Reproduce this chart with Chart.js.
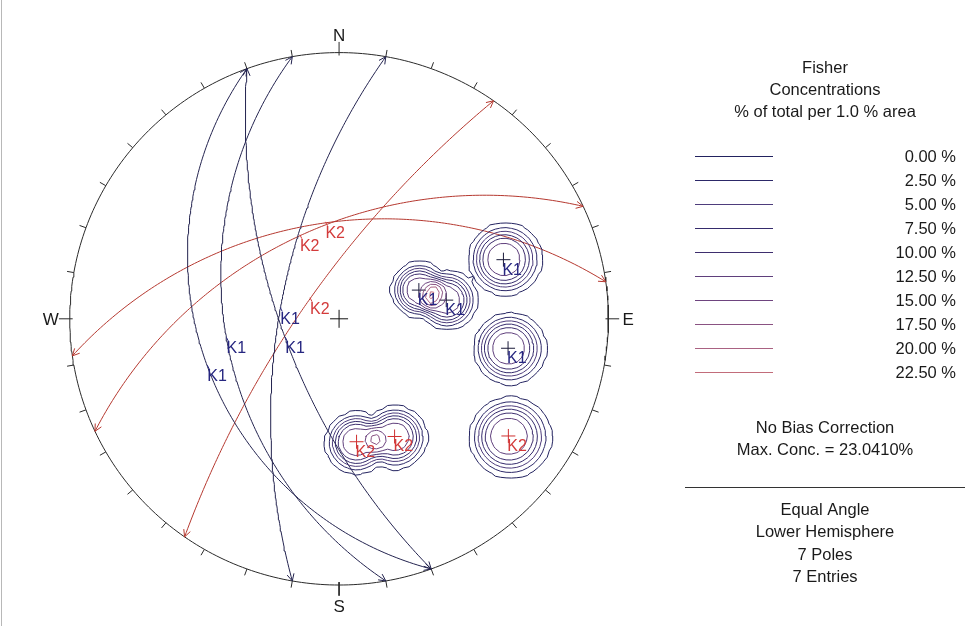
<!DOCTYPE html>
<html>
<head>
<meta charset="utf-8">
<title>Stereonet – Fisher Concentrations</title>
<script src="https://cdn.jsdelivr.net/npm/chart.js@4.4.1/dist/chart.umd.min.js"></script>
<style>
  html, body { margin: 0; padding: 0; background: #ffffff; }
  #wrap { position: relative; width: 970px; height: 626px; }
</style>
</head>
<body>
<div id="wrap"><canvas id="net" width="970" height="626"></canvas></div>
<script>
// ---- Joint measurements (one entry per plane) ----
const jointSets     = ['K1', 'K1', 'K1', 'K1', 'K2', 'K2', 'K2'];
const dipDirections = [250, 250, 260, 280, 352, 335, 305];   // degrees
const dips          = [66, 35, 44, 65, 50, 52, 75];          // degrees

// ---- Contour intervals (% of total per 1.0 % area) ----
const contourLevels = [0, 2.5, 5, 7.5, 10, 12.5, 15, 17.5, 20, 22.5];
const contourColors = ['#22225f', '#2c2868', '#4e3d7c', '#352b6c', '#3e2e6e',
                       '#5f3f7c', '#6e447f', '#8a5282', '#aa6282', '#c26c7a'];
const maxConcentration = 23.0410;
// the lowest (0.00 %) contour is traced at the edge of the counted area
const edgeThreshold = 0.35;

// ---- Text blocks ----
const cardinalLabels = ['N', 'E', 'S', 'W'];
const cardinalTrends = [0, 90, 180, 270];
const titleLines = ['Fisher', 'Concentrations', '% of total per 1.0 % area'];
const biasLines = ['No Bias Correction', 'Max. Conc. = ' + maxConcentration.toFixed(4) + '%'];
const projectionLines = ['Equal Angle', 'Lower Hemisphere',
                         dips.length + ' Poles', dips.length + ' Entries'];

// ---- Styling per joint set ----
const setStyle = {
  K1: { plane: '#23234f', pole: '#1b1b3a', text: '#262680' },
  K2: { plane: '#b5382f', pole: '#cf2f2f', text: '#d33b3b' }
};
const FONT = '"Liberation Sans", Arial, sans-serif';

// ---- Layout of the net on the canvas ----
const W = 970, H = 626;
const CX = 336, CY = 319, R = 275;   // primitive circle centre and radius (px)
const DEG = Math.PI / 180;

// Equal-angle (stereographic) lower hemisphere projection of a unit vector [east, north, down]
function project(v) { return { x: v[0] / (1 + v[2]), y: v[1] / (1 + v[2]) }; }
function unproject(x, y) {
  const r2 = x * x + y * y;
  return [2 * x / (1 + r2), 2 * y / (1 + r2), (1 - r2) / (1 + r2)];
}
function poleVector(dd, dip) {
  return [-Math.sin(dip * DEG) * Math.sin(dd * DEG),
          -Math.sin(dip * DEG) * Math.cos(dd * DEG),
           Math.cos(dip * DEG)];
}
function dipVector(dd, dip) {
  return [Math.cos(dip * DEG) * Math.sin(dd * DEG),
          Math.cos(dip * DEG) * Math.cos(dd * DEG),
          Math.sin(dip * DEG)];
}
function greatCircle(dd, dip) {
  const st = (dd - 90) * DEG;
  const S = [Math.sin(st), Math.cos(st), 0];
  const D = dipVector(dd, dip);
  const pts = [];
  for (let a = 0; a <= 180; a += 1) {
    const c = Math.cos(a * DEG), s = Math.sin(a * DEG);
    pts.push(project([c * S[0] + s * D[0], c * S[1] + s * D[1], c * S[2] + s * D[2]]));
  }
  return pts;
}

const poleVecs = dips.map((d, i) => poleVector(dipDirections[i], d));
const poles = poleVecs.map(project);
const planeArcs = dips.map((d, i) => greatCircle(dipDirections[i], d));
const planeAnchors = dips.map((d, i) => project(dipVector(dipDirections[i], d)));

// ---- Pole density on a grid, scaled to the reported maximum concentration ----
const SPREAD = 8.5 * DEG, FLOOR = 0.05;
function kernel(cosAng) {
  const t = Math.acos(Math.min(1, Math.abs(cosAng)));
  const w = Math.exp(-Math.pow(t / SPREAD, 4));
  return w > FLOOR ? (w - FLOOR) / (1 - FLOOR) : 0;
}
const GN = 110, GH = 2.2 / GN, G0 = -1.1;
const field = [];
let rawMax = 0;
for (let i = 0; i <= GN; i++) {
  field.push([]);
  for (let j = 0; j <= GN; j++) {
    const x = G0 + i * GH, y = G0 + j * GH;
    let v = 0;
    if (x * x + y * y <= 1.0) {
      const u = unproject(x, y);
      for (const p of poleVecs) v += kernel(u[0] * p[0] + u[1] * p[1] + u[2] * p[2]);
    }
    field[i].push(v);
    if (v > rawMax) rawMax = v;
  }
}
const fieldScale = maxConcentration / rawMax;
for (let i = 0; i <= GN; i++) for (let j = 0; j <= GN; j++) field[i][j] *= fieldScale;

// Marching squares: returns contour segments separated by gaps
function contourSegments(level) {
  const out = [];
  const lerp = (xa, ya, va, xb, yb, vb) => {
    const t = (level - va) / (vb - va);
    return { x: xa + t * (xb - xa), y: ya + t * (yb - ya) };
  };
  for (let i = 0; i < GN; i++) {
    for (let j = 0; j < GN; j++) {
      const x0 = G0 + i * GH, y0 = G0 + j * GH, x1 = x0 + GH, y1 = y0 + GH;
      const v0 = field[i][j], v1 = field[i + 1][j], v2 = field[i + 1][j + 1], v3 = field[i][j + 1];
      const a0 = v0 >= level, a1 = v1 >= level, a2 = v2 >= level, a3 = v3 >= level;
      if (a0 === a1 && a1 === a2 && a2 === a3) continue;
      const e = [];
      e[0] = a0 !== a1 ? lerp(x0, y0, v0, x1, y0, v1) : null; // bottom
      e[1] = a1 !== a2 ? lerp(x1, y0, v1, x1, y1, v2) : null; // right
      e[2] = a3 !== a2 ? lerp(x0, y1, v3, x1, y1, v2) : null; // top
      e[3] = a0 !== a3 ? lerp(x0, y0, v0, x0, y1, v3) : null; // left
      const hits = [0, 1, 2, 3].filter(k => e[k]);
      let pairs;
      if (hits.length === 2) pairs = [[hits[0], hits[1]]];
      else {
        const centre = (v0 + v1 + v2 + v3) / 4 >= level;
        if (a0 === centre) pairs = [[0, 1], [2, 3]];
        else pairs = [[3, 0], [1, 2]];
      }
      for (const [p, q] of pairs) {
        out.push(e[p], e[q], { x: null, y: null });
      }
    }
  }
  return out;
}

// ---- Primitive circle and its tick marks ----
const primitive = [];
for (let a = 0; a <= 360; a += 1) primitive.push({ x: Math.sin(a * DEG), y: Math.cos(a * DEG) });
const ticks = [];
for (let a = 0; a < 360; a += 10) {
  const major = a % 90 === 0;
  const r0 = major ? 1 - 3 / R : 1, r1 = major ? 1 + 11 / R : 1 + 7 / R;
  ticks.push({ x: r0 * Math.sin(a * DEG), y: r0 * Math.cos(a * DEG) },
             { x: r1 * Math.sin(a * DEG), y: r1 * Math.cos(a * DEG) },
             { x: null, y: null });
}

// ---- Datasets ----
const datasets = [];
contourLevels.forEach((lv, k) => {
  datasets.push({
    data: contourSegments(lv === 0 ? edgeThreshold : lv),
    showLine: true, borderColor: contourColors[k], borderWidth: 1,
    pointRadius: 0, spanGaps: false
  });
});
planeArcs.forEach((arc, i) => {
  datasets.push({
    data: arc, showLine: true, borderColor: setStyle[jointSets[i]].plane,
    borderWidth: 1, pointRadius: 0
  });
});
datasets.push({ data: primitive, showLine: true, borderColor: '#2a2a2a', borderWidth: 1, pointRadius: 0 });
datasets.push({ data: ticks, showLine: true, borderColor: '#2a2a2a', borderWidth: 1, pointRadius: 0, spanGaps: false });
datasets.push({
  data: poles, showLine: false, pointStyle: 'cross', pointRadius: 7, borderWidth: 1,
  pointBorderColor: jointSets.map(s => setStyle[s].pole), pointBackgroundColor: 'transparent'
});
datasets.push({
  data: [{ x: 0, y: 0 }], showLine: false, pointStyle: 'cross', pointRadius: 9, borderWidth: 1,
  pointBorderColor: '#111111'
});

// ---- Labels, arrowheads and the information panel ----
const overlay = {
  id: 'stereoOverlay',
  afterDatasetsDraw(chart) {
    const ctx = chart.ctx, xs = chart.scales.x, ys = chart.scales.y;
    const toPx = p => [xs.getPixelForValue(p.x), ys.getPixelForValue(p.y)];
    ctx.save();

    // frame edge
    ctx.strokeStyle = '#b8b8b8'; ctx.lineWidth = 1;
    ctx.beginPath(); ctx.moveTo(1.5, 0); ctx.lineTo(1.5, H); ctx.stroke();

    // arrowheads at both ends of each great circle
    planeArcs.forEach((arc, i) => {
      ctx.strokeStyle = setStyle[jointSets[i]].plane;
      [[arc[0], arc[4]], [arc[arc.length - 1], arc[arc.length - 5]]].forEach(([tip, back]) => {
        const [tx, ty] = toPx(tip), [bx, by] = toPx(back);
        let dx = tx - bx, dy = ty - by; const L = Math.hypot(dx, dy); dx /= L; dy /= L;
        ctx.beginPath();
        ctx.moveTo(tx - 7 * dx - 3.5 * dy, ty - 7 * dy + 3.5 * dx);
        ctx.lineTo(tx, ty);
        ctx.lineTo(tx - 7 * dx + 3.5 * dy, ty - 7 * dy - 3.5 * dx);
        ctx.stroke();
      });
    });

    // cardinal directions
    ctx.fillStyle = '#1a1a1a';
    ctx.font = '17px ' + FONT;
    cardinalLabels.forEach((lab, k) => {
      const t = cardinalTrends[k] * DEG;
      const [px, py] = toPx({ x: Math.sin(t), y: Math.cos(t) });
      ctx.textBaseline = 'alphabetic';
      if (lab === 'N') { ctx.textAlign = 'center'; ctx.fillText(lab, px, py - 12); }
      if (lab === 'S') { ctx.textAlign = 'center'; ctx.fillText(lab, px, py + 27); }
      if (lab === 'W') { ctx.textAlign = 'right'; ctx.fillText(lab, px - 11, py + 6); }
      if (lab === 'E') { ctx.textAlign = 'left'; ctx.fillText(lab, px + 14, py + 6); }
    });

    // plane labels at the dip-direction point of each great circle
    ctx.font = '16px ' + FONT; ctx.textAlign = 'left'; ctx.textBaseline = 'alphabetic';
    planeAnchors.forEach((a, i) => {
      const [px, py] = toPx(a);
      const st = setStyle[jointSets[i]];
      ctx.strokeStyle = st.text; ctx.lineWidth = 1;
      ctx.beginPath(); ctx.moveTo(px, py - 1); ctx.lineTo(px + 2, py + 3); ctx.stroke();
      ctx.fillStyle = st.text;
      ctx.fillText(jointSets[i], px, py + 15);
    });

    // pole labels
    poles.forEach((p, i) => {
      const [px, py] = toPx(p);
      ctx.fillStyle = setStyle[jointSets[i]].text;
      ctx.fillText(jointSets[i], px - 1, py + 15);
    });

    // information panel
    const PX = 825;
    ctx.fillStyle = '#1a1a1a'; ctx.font = '16.5px ' + FONT; ctx.textAlign = 'center';
    titleLines.forEach((s, k) => ctx.fillText(s, PX, 73 + 22 * k));
    contourLevels.forEach((lv, k) => {
      const y = 156 + 24 * k;
      ctx.strokeStyle = contourColors[k]; ctx.lineWidth = 1.2;
      ctx.beginPath(); ctx.moveTo(695, y + 0.5); ctx.lineTo(773, y + 0.5); ctx.stroke();
      ctx.textAlign = 'right'; ctx.fillStyle = '#1a1a1a';
      ctx.fillText(lv.toFixed(2) + ' %', 956, y + 6);
    });
    ctx.textAlign = 'center';
    biasLines.forEach((s, k) => ctx.fillText(s, PX, 433 + 22 * k));
    ctx.strokeStyle = '#333333'; ctx.lineWidth = 1;
    ctx.beginPath(); ctx.moveTo(685, 487.5); ctx.lineTo(965, 487.5); ctx.stroke();
    projectionLines.forEach((s, k) => ctx.fillText(s, PX, 515 + 22.3 * k));

    ctx.restore();
  }
};

new Chart(document.getElementById('net'), {
  type: 'scatter',
  data: { datasets },
  options: {
    responsive: false,
    devicePixelRatio: 1,
    animation: false,
    events: [],
    layout: { padding: 0 },
    plugins: { legend: { display: false }, tooltip: { enabled: false }, title: { display: false } },
    scales: {
      x: { type: 'linear', display: false, min: -CX / R, max: (W - CX) / R },
      y: { type: 'linear', display: false, min: -(H - CY) / R, max: CY / R }
    }
  },
  plugins: [overlay]
});
</script>
</body>
</html>
